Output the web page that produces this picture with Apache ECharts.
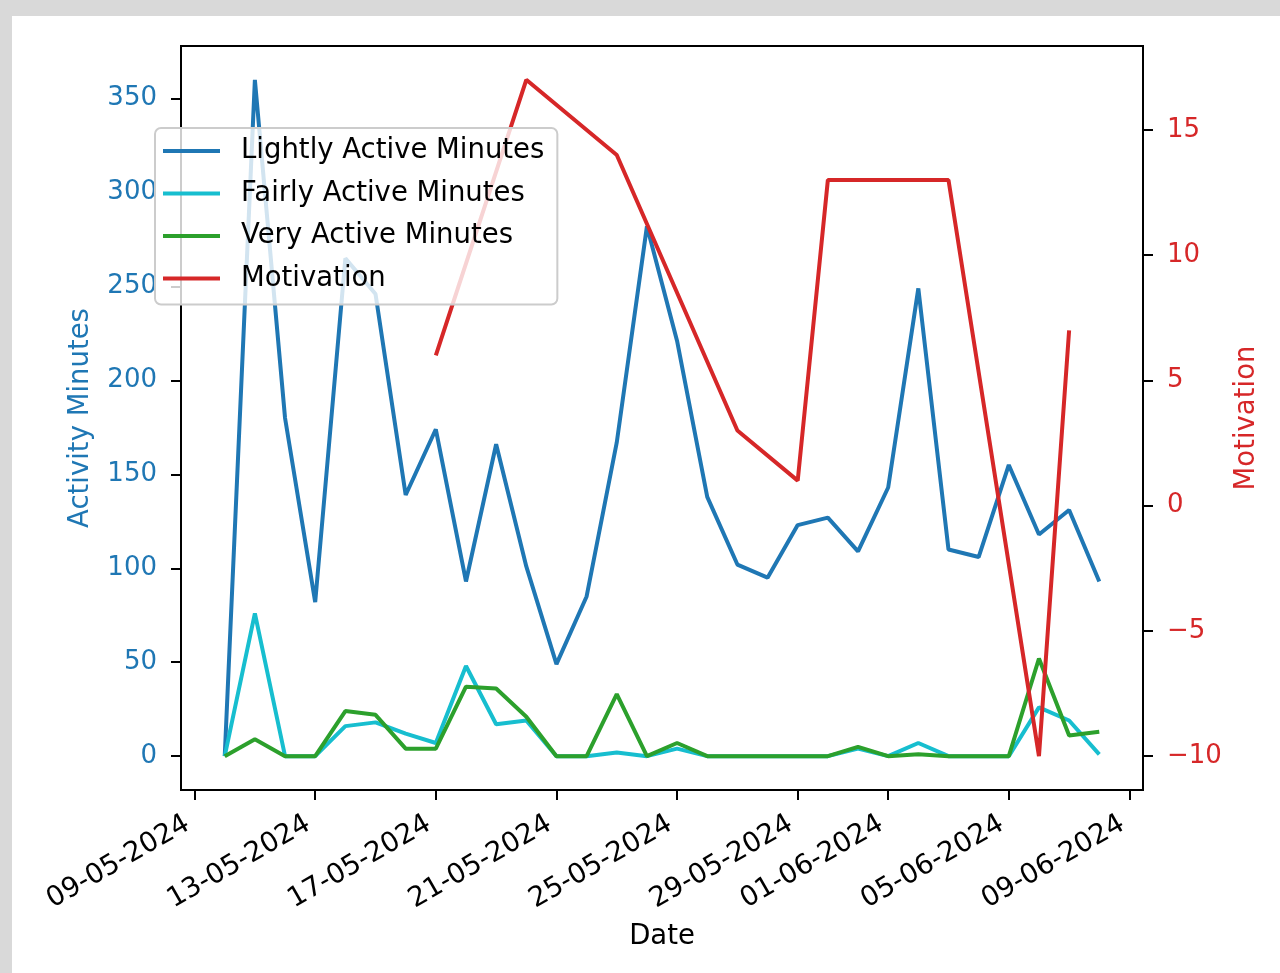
<!DOCTYPE html>
<html>
<head>
<meta charset="utf-8">
<script src="https://cdn.jsdelivr.net/npm/echarts@6/dist/echarts.min.js"></script>
<style>
  html, body { margin: 0; padding: 0; background: #d9d9d9; width: 1280px; height: 973px; overflow: hidden; }
  #chart { position: absolute; left: 12px; top: 16px; width: 1268px; height: 957px; background: #ffffff; }
</style>
</head>
<body>
<div id="chart"></div>
<script>
// ---- data ----
const dates = ['2024-05-10','2024-05-11','2024-05-12','2024-05-13','2024-05-14','2024-05-15','2024-05-16','2024-05-17','2024-05-18','2024-05-19',
               '2024-05-20','2024-05-21','2024-05-22','2024-05-23','2024-05-24','2024-05-25','2024-05-26','2024-05-27','2024-05-28','2024-05-29',
               '2024-05-30','2024-05-31','2024-06-01','2024-06-02','2024-06-03','2024-06-04','2024-06-05','2024-06-06','2024-06-07','2024-06-08'];
const lightly = [0,360,180,82,265,246,139,174,93,166,101,49,85,167,282,221,138,102,95,123,127,109,143,249,110,106,155,118,131,93];
const fairly  = [0,76,0,0,16,18,12,7,48,17,19,0,0,2,0,4,0,0,0,0,0,4,0,7,0,0,0,26,19,1];
const very    = [0,9,0,0,24,22,4,4,37,36,21,0,0,33,0,7,0,0,0,0,0,5,0,1,0,0,0,52,11,13];
const motivationDates = ['2024-05-17','2024-05-20','2024-05-23','2024-05-27','2024-05-29','2024-05-30','2024-06-03','2024-06-06','2024-06-07'];
const motivation = [6,17,14,3,1,13,13,-10,7];
const xTickDates = ['2024-05-09','2024-05-13','2024-05-17','2024-05-21','2024-05-25','2024-05-29','2024-06-01','2024-06-05','2024-06-09'];
const leftTicks = [0,50,100,150,200,250,300,350];
const rightTicks = [-10,-5,0,5,10,15];

// ---- helpers ----
function ts(s) { const p = s.split('-').map(Number); return Date.UTC(p[0], p[1]-1, p[2]); }
function fmtDate(v) {
  const d = new Date(v);
  const dd = String(d.getUTCDate()).padStart(2,'0');
  const mm = String(d.getUTCMonth()+1).padStart(2,'0');
  return dd + '-' + mm + '-' + d.getUTCFullYear();
}
const first = ts(dates[0]), last = ts(dates[dates.length-1]);
const span = last - first;
const xMin = first - span * 0.05, xMax = last + span * 0.05;

const FONT = 'DejaVu Sans';
const FS = 26;      // y tick labels
const FT = 27.5;    // other texts
const LW = 4;
const BLUE = '#1f77b4', CYAN = '#17becf', GREEN = '#2ca02c', RED = '#d62728';

const chart = echarts.init(document.getElementById('chart'), null, { renderer: 'canvas' });
chart.setOption({
  animation: false,
  textStyle: { fontFamily: FONT },
  grid: { left: 169, right: 137, top: 30, bottom: 183, show: true, borderColor: '#000', borderWidth: 2, backgroundColor: 'transparent' },
  legend: {
    orient: 'vertical', left: 143, top: 112,
    icon: 'rect', itemWidth: 57, itemHeight: 4, itemGap: 12.5,
    backgroundColor: 'rgba(255,255,255,0.8)', borderColor: '#cccccc', borderWidth: 2, borderRadius: 6,
    padding: [8, 13, 11, 8],
    textStyle: { fontFamily: FONT, fontSize: FT, color: '#000', lineHeight: 30, padding: [0, 0, 0, 16] },
    data: ['Lightly Active Minutes', 'Fairly Active Minutes', 'Very Active Minutes', 'Motivation']
  },
  xAxis: {
    type: 'value', min: xMin, max: xMax,
    splitLine: { show: false },
    axisLine: { show: true, onZero: false, lineStyle: { color: '#000', width: 2 } },
    axisTick: { show: true, length: 10, lineStyle: { color: '#000', width: 2 }, customValues: xTickDates.map(ts) },
    axisLabel: { customValues: xTickDates.map(ts), formatter: fmtDate, rotate: 30, margin: 28, padding: [0, 8, 0, 0],
                 fontFamily: FONT, fontSize: FT, color: '#000', hideOverlap: false },
    name: 'Date', nameLocation: 'middle', nameGap: 133,
    nameTextStyle: { fontFamily: FONT, fontSize: FT, color: '#000' }
  },
  yAxis: [
    {
      type: 'value', min: -18, max: 378, position: 'left',
      splitLine: { show: false },
      axisLine: { show: true, onZero: false, lineStyle: { color: '#000', width: 2 } },
      axisTick: { show: true, length: 10, lineStyle: { color: '#000', width: 2 }, customValues: leftTicks },
      axisLabel: { customValues: leftTicks, margin: 24, padding: [4, 0, 0, 0], fontFamily: FONT, fontSize: FS, color: BLUE },
      name: 'Activity Minutes', nameLocation: 'middle', nameGap: 86, nameRotate: 90,
      nameTextStyle: { fontFamily: FONT, fontSize: FT, color: BLUE }
    },
    {
      type: 'value', min: -11.35, max: 18.35, position: 'right',
      splitLine: { show: false },
      axisLine: { show: true, onZero: false, lineStyle: { color: '#000', width: 2 } },
      axisTick: { show: true, length: 10, lineStyle: { color: '#000', width: 2 }, customValues: rightTicks },
      axisLabel: { customValues: rightTicks, margin: 24, padding: [4, 0, 0, 0], fontFamily: FONT, fontSize: FS, color: RED,
                   formatter: v => (v < 0 ? '\u2212' + Math.abs(v) : String(v)) },
      name: 'Motivation', nameLocation: 'middle', nameGap: 87, nameRotate: 90,
      nameTextStyle: { fontFamily: FONT, fontSize: FT, color: RED }
    }
  ],
  series: [
    { name: 'Lightly Active Minutes', type: 'line', yAxisIndex: 0, symbol: 'none', color: BLUE,
      lineStyle: { width: LW, color: BLUE }, data: dates.map((d, i) => [ts(d), lightly[i]]) },
    { name: 'Fairly Active Minutes', type: 'line', yAxisIndex: 0, symbol: 'none', color: CYAN,
      lineStyle: { width: LW, color: CYAN }, data: dates.map((d, i) => [ts(d), fairly[i]]) },
    { name: 'Very Active Minutes', type: 'line', yAxisIndex: 0, symbol: 'none', color: GREEN,
      lineStyle: { width: LW, color: GREEN }, data: dates.map((d, i) => [ts(d), very[i]]) },
    { name: 'Motivation', type: 'line', yAxisIndex: 1, symbol: 'none', color: RED,
      lineStyle: { width: LW, color: RED }, data: motivationDates.map((d, i) => [ts(d), motivation[i]]) }
  ]
});
</script>
</body>
</html>
